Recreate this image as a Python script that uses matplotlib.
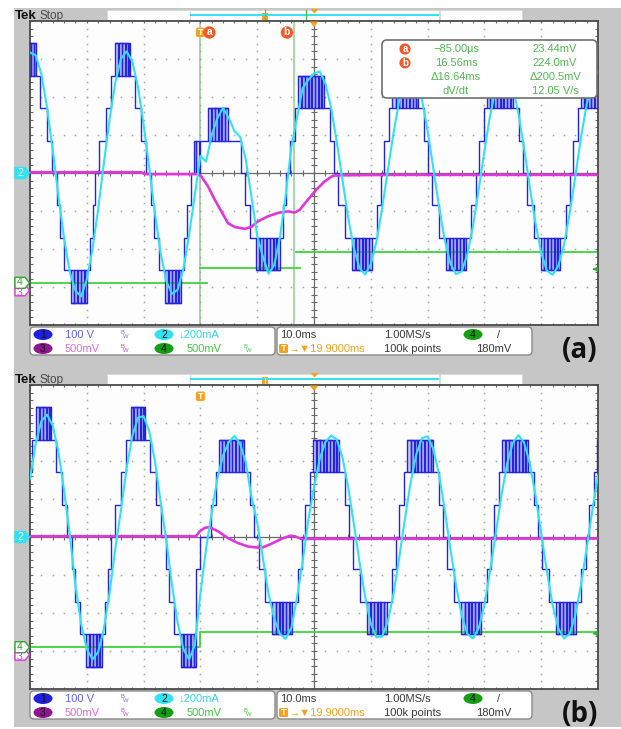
import numpy as np
import matplotlib
matplotlib.use("Agg")
import matplotlib.pyplot as plt  # noqa: E402
from matplotlib.patches import Rectangle, FancyBboxPatch, Circle, Ellipse, Polygon  # noqa: E402

plt.rcParams["font.family"] = ["Liberation Sans", "DejaVu Sans"]

# ---- scope settings ----
V_PER_DIV = 100.0      # ch1
MA_PER_DIV = 200.0     # ch2
MV_PER_DIV = 500.0     # ch3, ch4
CELL_V = 85.5          # height of one staircase level, V
TRIG_MS = 30.0         # trigger point, ms from left edge of screen
CUR_A_MS = -0.085      # cursor a rel. trigger
CUR_B_MS = 16.56       # cursor b rel. trigger
TRIG_LEVEL_MV = 180.0

# ---- ch1: multilevel staircase, one cycle per template (ms from cycle start, level) ----
L4_T = [0.00, 0.70, 1.85, 2.73,
        3.52, 4.00, 4.10, 4.60, 4.70, 5.20, 5.30, 5.75, 5.85, 6.04,
        6.90, 8.06, 8.94, 9.77, 10.30, 11.13,
        12.29, 12.80, 12.90, 13.40, 13.50, 14.00, 14.10, 14.60, 14.70, 15.14,
        15.58, 16.11]
L4_LVL = [0, 1, 2, 3,
          4, 3, 4, 3, 4, 3, 4, 3, 4, 3,
          2, 1, 0, -1, -2, -3,
          -4, -3, -4, -3, -4, -3, -4, -3, -4, -3,
          -2, -1]
L4_CHOP = [(3.52, 6.04, 3, 4), (12.29, 15.14, -4, -3)]

L3_T = [0.00, 0.53, 1.41,
        1.94, 2.50, 2.60, 3.10, 3.20, 3.70, 3.80, 4.30, 4.40, 4.90, 5.00,
        5.50, 5.60, 6.05, 6.15, 6.51,
        7.57, 8.27, 8.98, 10.21,
        11.44, 12.00, 12.10, 12.60, 12.70, 13.20, 13.30, 13.80, 13.90, 14.40, 14.50, 14.88,
        15.85]
L3_LVL = [0, 1, 2,
          3, 2, 3, 2, 3, 2, 3, 2, 3, 2, 3,
          2, 3, 2, 3, 2,
          1, 0, -1, -2,
          -3, -2, -3, -2, -3, -2, -3, -2, -3, -2, -3, -2,
          -1]
L3_CHOP = [(1.94, 6.51, 2, 3), (11.44, 14.88, -3, -2)]

# transition cycle in (a)
TA_T = [0.00, 0.50, 0.85, 1.02, 1.46, 1.64,
        3.05, 3.60, 3.70, 4.20, 4.30, 4.80, 4.90, 5.40, 5.50, 6.00, 6.10, 6.57,
        8.91, 9.65, 10.44,
        11.55, 12.10, 12.20, 12.70, 12.80, 13.30, 13.40, 13.90, 14.00,
        14.50, 14.60, 15.10, 15.20, 15.67,
        16.25, 16.78]
TA_LVL = [0, 1, 0, 1, 0, 1,
          2, 1, 2, 1, 2, 1, 2, 1, 2, 1, 2, 1,
          0, -1, -2,
          -3, -2, -3, -2, -3, -2, -3, -2, -3,
          -2, -3, -2, -3, -2,
          -1, 0]
TA_CHOP = [(3.05, 6.57, 1, 2), (11.55, 15.67, -3, -2)]

# short re-entry in (b)
TB_T = [0.0, 0.6]
TB_LVL = [-1, 0]
TB_CHOP = []

STAIR = {"L4": (L4_T, L4_LVL, L4_CHOP), "L3": (L3_T, L3_LVL, L3_CHOP),
         "TA": (TA_T, TA_LVL, TA_CHOP), "TB": (TB_T, TB_LVL, TB_CHOP)}

A_START = [-5.07, 11.53, 28.29, 45.25, 61.85, 78.45, 95.05]
A_KIND = ["L4", "L4", "TA", "L3", "L3", "L3", "L3"]
B_START = [-2.39, 14.21, 29.28, 31.25, 47.89, 64.52, 81.16, 97.80]
B_KIND = ["L4", "L4", "TB", "L3", "L3", "L3", "L3", "L3"]

# ---- ch2: current, one sample per ms ----
CUR_T = list(range(101))
CUR_A_MA = [634, 620, 520, 344, 120, -120, -344, -520, -620, -650,
            -560, -402, -190, 50, 280, 474, 600, 640, 588, 454,
            256, 26, -212, -422, -570, -636, -614, -506, -326, -120,
            90, 60, 200, 290, 342, 290, 220, 190, 70, -128,
            -330, -440, -530, -484, -340, -120, 134, 290, 446, 490,
            524, 534, 472, 344, 166, -34, -232, -394, -500, -534,
            -480, -360, -184, 14, 212, 380, 494, 536, 498, 388,
            222, 26, -174, -350, -476, -532, -518, -428, -278, -86,
            116, 302, 444, 524, 526, 452, 312, 128, -76, -266,
            -420, -514, -536, -490, -380, -214, -20, 186, 360, 480,
            536]
CUR_B_MA = [304, 492, 610, 644, 586, 448, 246, 12, -256, -456,
            -590, -644, -606, -484, -296, -64, 138, 360, 530, 628,
            636, 556, 398, 184, -18, -254, -452, -590, -644, -570,
            -300, -60, 130, 310, 430, 500, 532, 490, 390, 210,
            76, -110, -300, -430, -510, -536, -480, -320, -130, 90,
            260, 410, 500, 534, 514, 420, 266, 72, -130, -316,
            -456, -528, -524, -444, -298, -110, 94, 284, 434, 520,
            530, 464, 330, 146, -60, -254, -414, -510, -534, -480,
            -356, -180, 18, 218, 386, 496, 536, 496, 386, 218,
            18, -180, -356, -480, -534, -510, -414, -254, -60, 140,
            324]

# ---- ch3 ----
MAG_A_T = [0, 19.5, 20.2, 29.6, 30.16, 31.34, 32.52, 33.68, 34.86, 36.04, 37.8, 38.96,
           40.14, 41.9, 43.66, 45.42, 46.6, 47.48, 48.94, 50.4, 51.88, 53.35, 54.58, 63.9, 100]
MAG_A_MV = [10, 10, -15, -15, -45, -175, -350, -505, -660, -710, -735, -710,
            -635, -570, -525, -505, -520, -485, -350, -220, -110, -35, -30, -25, -25]
MAG_B_T = [0, 29.23, 29.88, 30.76, 31.6, 33.1, 34.86, 36.62, 38.38, 40.72, 42.48, 44.24,
           45.72, 46.6, 47.76, 100]
MAG_B_MV = [10, 10, 75, 120, 130, 75, -15, -80, -125, -145, -90, -25, 15, 10, -25, -20]

# ---- ch4 ----
CH4_POS_A = -2.89
CH4_POS_B = -2.90
GRN_A_T0 = [0, 29.9, 46.8]
GRN_A_T1 = [31.1, 47.5, 100]
GRN_A_MV = [0, 200, 410]
GRN_B_T = [0, 29.9, 100]
GRN_B_MV = [0, 205, 205]

BLUE = "#2424e0"
CYAN = "#30e2f2"
MAG = "#e236dc"
GRN = "#3ed63e"
CURSOR_GRN = "#96d496"
ORANGE = "#f5a020"
RED_OR = "#f25a29"
FRAME = "#c6c6c6"
TXT = "#3a3a3a"

W, H = 621, 729
GX0, GW, GH = 30, 568, 304
TL_X0, TL_PX_PER_MS = 191, 2.47     # record timeline in the top bar


def build_stairs(starts, kinds, t_end=100.0):
    ts, lv, bands = [], [], []
    for i, (t0, kind) in enumerate(zip(starts, kinds)):
        t_next = starts[i + 1] if i + 1 < len(starts) else t_end
        rel_t, rel_lvl, chops = STAIR[kind]
        for rt, l in zip(rel_t, rel_lvl):
            if t0 + rt < t_next:
                ts.append(t0 + rt)
                lv.append(l)
        for c0, c1, lo, hi in chops:
            if t0 + c0 < t_next:
                bands.append((t0 + c0, min(t0 + c1, t_next), lo, hi))
    ts.append(t_end)
    lv.append(lv[-1])
    return np.array(ts), np.array(lv, float), bands


def draw_grid(ax):
    ax.set_xlim(0, 100)
    ax.set_ylim(-4, 4)
    ax.set_facecolor("#fdfdfd")
    ax.set_xticks([]); ax.set_yticks([])
    for s in ax.spines.values():
        s.set_color("#4a4a4a"); s.set_linewidth(1.3)
    yk = np.arange(-4, 4.001, 0.2)
    xk = np.arange(0, 100.001, 2.0)
    for gx in range(10, 100, 10):
        if gx != 50:
            ax.plot([gx] * len(yk), yk, ls="none", marker="s", ms=1.1, mew=0, color="#a6a6a6")
    for gy in (-3, -2, -1, 1, 2, 3):
        ax.plot(xk, [gy] * len(xk), ls="none", marker="s", ms=1.1, mew=0, color="#a6a6a6")
    ax.axvline(50, color="#6a6a6a", lw=0.9)
    ax.axhline(0, color="#6a6a6a", lw=0.9)
    ax.hlines(yk, 49.45, 50.55, color="#6a6a6a", lw=0.8)
    ax.vlines(xk, -0.07, 0.07, color="#6a6a6a", lw=0.8)
    ax.hlines(yk, 0, 0.45, color="#6a6a6a", lw=0.8)
    ax.hlines(yk, 99.55, 100, color="#6a6a6a", lw=0.8)
    ax.vlines(xk, 3.94, 4, color="#6a6a6a", lw=0.8)
    ax.vlines(xk, -4, -3.94, color="#6a6a6a", lw=0.8)


def draw_traces(ax, starts, kinds, cur_ma, mag_t, mag_mv, ch4_pos):
    t, lvl, bands = build_stairs(starts, kinds)
    k = CELL_V / V_PER_DIV
    for c0, c1, lo, hi in bands:
        ax.fill_between([c0, c1], lo * k, hi * k, color="#c4c8f7", lw=0, zorder=2)
        ax.hlines([lo * k, hi * k], c0, c1, color=BLUE, lw=1.0, zorder=3)
    ax.step(t, lvl * k, where="post", color=BLUE, lw=1.0, zorder=3.1)
    ax.plot(mag_t, np.array(mag_mv) / MV_PER_DIV, color=MAG, lw=1.9, zorder=4)
    ax.plot(CUR_T, np.array(cur_ma) / MA_PER_DIV, color=CYAN, lw=1.5, zorder=5)
    lv = ch4_pos + TRIG_LEVEL_MV / MV_PER_DIV
    ax.annotate("", xy=(98.5, lv), xytext=(99.9, lv),
                arrowprops=dict(arrowstyle="-|>", color="#2bb82b", lw=1, mutation_scale=6))


def badge(ax, x, y, s, color):
    ax.add_patch(Ellipse((x, y), 19, 11, fc=color, ec="none"))
    ax.text(x, y + 0.4, s, ha="center", va="center", fontsize=7.5, color="#101010")


def bw_icon(ax, x, y, color):
    ax.text(x - 1.2, y - 1.8, "B", fontsize=4.2, color=color, ha="center", va="center")
    ax.text(x + 1.6, y + 1.8, "W", fontsize=4.2, color=color, ha="center", va="center")


def chan_tag(ax, y, s, fill, edge, tcolor, ty=0.4):
    pts = [(15, y - 5.5), (25, y - 5.5), (29.5, y), (25, y + 5.5), (15, y + 5.5)]
    ax.add_patch(Polygon(pts, closed=True, fc=fill, ec=edge, lw=1))
    ax.text(20, y + ty, s, ha="center", va="center", fontsize=7.5, color=tcolor)


def chrome(bg, fg, dy, label, ch4_pos):
    # top status bar
    bg.text(15, 15.5 + dy, "Tek", fontsize=9.5, weight="bold", va="center", color="#111111")
    bg.text(40, 16 + dy, "Stop", fontsize=8.5, va="center", color="#4a4a4a")
    for x0, x1 in [(107, 190), (190, 439), (440, 522)]:
        bg.add_patch(Rectangle((x0, 10 + dy), x1 - x0, 10.5, fc="white", ec="#d8d8d8", lw=0.6))
    bg.plot([TL_X0, 438], [14.5 + dy] * 2, color=CYAN, lw=1.4)
    px_tl = TL_X0 + TRIG_MS * TL_PX_PER_MS
    bg.add_patch(Rectangle((px_tl - 3, 13 + dy), 6, 7.5, fc=ORANGE, lw=0))
    bg.plot([px_tl, px_tl], [14 + dy, 20 + dy], color="white", lw=0.8)
    tx = TL_X0 + 50 * TL_PX_PER_MS
    bg.add_patch(Polygon([(tx - 4, 9 + dy), (tx + 4, 9 + dy), (tx, 13.5 + dy)], fc=ORANGE, lw=0))
    gx = GX0 + GW / 2
    fg.add_patch(Polygon([(gx - 4.5, 21.5 + dy), (gx + 4.5, 21.5 + dy), (gx, 27 + dy)],
                         fc=ORANGE, lw=0))

    # channel ground markers
    y0 = 21 + dy + GH / 2
    chan_tag(fg, y0, "2", CYAN, CYAN, "white")
    y4 = y0 - ch4_pos * GH / 8
    chan_tag(fg, y4 + 7.5, "3", "white", MAG, MAG, ty=2.5)
    chan_tag(fg, y4, "4", "white", "#2fa82f", "#2fa82f", ty=-0.5)

    # trigger T marker
    px_t = GX0 + TRIG_MS * GW / 100
    fg.add_patch(FancyBboxPatch((px_t - 4.5, 27.5 + dy), 9, 9.5,
                                boxstyle="round,pad=0,rounding_size=2", fc=ORANGE, lw=0))
    fg.text(px_t, 32.5 + dy, "T", ha="center", va="center", fontsize=6.5, color="white",
            weight="bold")

    # info bar
    r1, r2 = 334.5 + dy, 348.5 + dy
    fg.add_patch(FancyBboxPatch((30, 327 + dy), 245, 28, boxstyle="round,pad=0,rounding_size=4",
                                fc="white", ec="#8a8a8a", lw=1))
    fg.add_patch(FancyBboxPatch((277, 327 + dy), 255, 28, boxstyle="round,pad=0,rounding_size=4",
                                fc="white", ec="#8a8a8a", lw=1))
    badge(fg, 43, r1, "1", "#1f1fe0")
    fg.text(65, r1, "100 V", fontsize=8, va="center", color="#6262ee")
    bw_icon(fg, 124, r1, "#7070ee")
    badge(fg, 164, r1, "2", CYAN)
    fg.text(179, r1, "\u2193200mA", fontsize=8, va="center", color="#2fd6ee")
    badge(fg, 43, r2, "3", "#8e168e")
    fg.text(65, r2, "500mV", fontsize=8, va="center", color="#de6cde")
    bw_icon(fg, 124, r2, "#c050c0")
    badge(fg, 164, r2, "4", "#139e13")
    fg.text(187, r2, "500mV", fontsize=8, va="center", color="#44c844")
    bw_icon(fg, 247, r2, "#44c844")

    fg.text(280, r1, "10.0ms", fontsize=8, va="center", color=TXT)
    fg.text(384, r1, "1.00MS/s", fontsize=8, va="center", color=TXT)
    badge(fg, 473, r1, "4", "#139e13")
    fg.text(497, r1, "/", fontsize=8, va="center", color=TXT)
    fg.add_patch(FancyBboxPatch((279, r2 - 4.5), 9, 9, boxstyle="round,pad=0,rounding_size=1.5",
                                fc=ORANGE, lw=0))
    fg.text(283.5, r2 + 0.3, "T", ha="center", va="center", fontsize=6.5, color="white",
            weight="bold")
    fg.text(289, r2, "\u2192\u25bc19.9000ms", fontsize=8, va="center", color=ORANGE)
    fg.text(384, r2, "100k points", fontsize=8, va="center", color=TXT)
    fg.text(476, r2, "180mV", fontsize=8, va="center", color=TXT)

    fg.text(580, 350 + dy, label, fontsize=20, weight="bold", ha="center", va="center",
            family=["Open Sans", "DejaVu Sans"], color="#111111")


fig = plt.figure(figsize=(W / 100, H / 100), dpi=100)
bg = fig.add_axes([0, 0, 1, 1], zorder=0)
bg.set_xlim(0, W); bg.set_ylim(H, 0); bg.axis("off")
fg = fig.add_axes([0, 0, 1, 1], zorder=3)
fg.set_xlim(0, W); fg.set_ylim(H, 0); fg.axis("off"); fg.patch.set_alpha(0)
bg.add_patch(Rectangle((14, 8), W - 14, 719, fc=FRAME, lw=0))

panels = [
    (21, "(a)", A_START, A_KIND, CUR_A_MA, MAG_A_T, MAG_A_MV, CH4_POS_A),
    (385, "(b)", B_START, B_KIND, CUR_B_MA, MAG_B_T, MAG_B_MV, CH4_POS_B),
]
axes = []
for top, label, starts, kinds, cur, mt, mmv, c4 in panels:
    ax = fig.add_axes([GX0 / W, 1 - (top + GH) / H, GW / W, GH / H], zorder=1)
    draw_grid(ax)
    draw_traces(ax, starts, kinds, cur, mt, mmv, c4)
    chrome(bg, fg, top - 21, label, c4)
    axes.append(ax)

ax_a, ax_b = axes

# ch4 traces
for t0, t1, mv in zip(GRN_A_T0, GRN_A_T1, GRN_A_MV):
    ax_a.plot([t0, t1], [CH4_POS_A + mv / MV_PER_DIV] * 2, color=GRN, lw=1.3, zorder=2.5)
ax_b.step(GRN_B_T, CH4_POS_B + np.array(GRN_B_MV) / MV_PER_DIV, where="post",
          color=GRN, lw=1.3, zorder=2.5)

# cursors in (a)
ta = TRIG_MS + CUR_A_MS
tb = TRIG_MS + CUR_B_MS
for tc in (ta, tb):
    ax_a.axvline(tc, color=CURSOR_GRN, lw=1.2, zorder=1.5)
    px = TL_X0 + tc * TL_PX_PER_MS
    bg.plot([px, px], [10, 20.5], color="#4cc24c", lw=0.9)
for tc, s, off in ((ta, "a", 9.5), (tb, "b", -7.5)):
    px = GX0 + tc * GW / 100 + off
    fg.add_patch(Circle((px, 32.5), 6.2, fc=RED_OR, ec="none"))
    fg.text(px, 32.3, s, ha="center", va="center", fontsize=7.5, color="white", weight="bold")

# cursor readout
fg.add_patch(FancyBboxPatch((382, 40), 215, 58, boxstyle="round,pad=0,rounding_size=5",
                            fc="white", ec="#707070", lw=1.2))
rows = [("a", "\u221285.00\u00b5s", "23.44mV"), ("b", "16.56ms", "224.0mV"),
        (None, "\u039416.64ms", "\u0394200.5mV"), (None, "dV/dt", "12.05 V/s")]
for i, (tag, c1, c2) in enumerate(rows):
    y = 49 + i * 13.9
    if tag:
        fg.add_patch(Circle((405, y), 5.6, fc=RED_OR, ec="none"))
        fg.text(405, y - 0.3, tag, ha="center", va="center", fontsize=7, color="white",
                weight="bold")
    fg.text(456, y, c1, ha="center", va="center", fontsize=8, color="#50b850")
    fg.text(555, y, c2, ha="center", va="center", fontsize=8, color="#50b850")

fig.savefig("out.png", dpi=100)
